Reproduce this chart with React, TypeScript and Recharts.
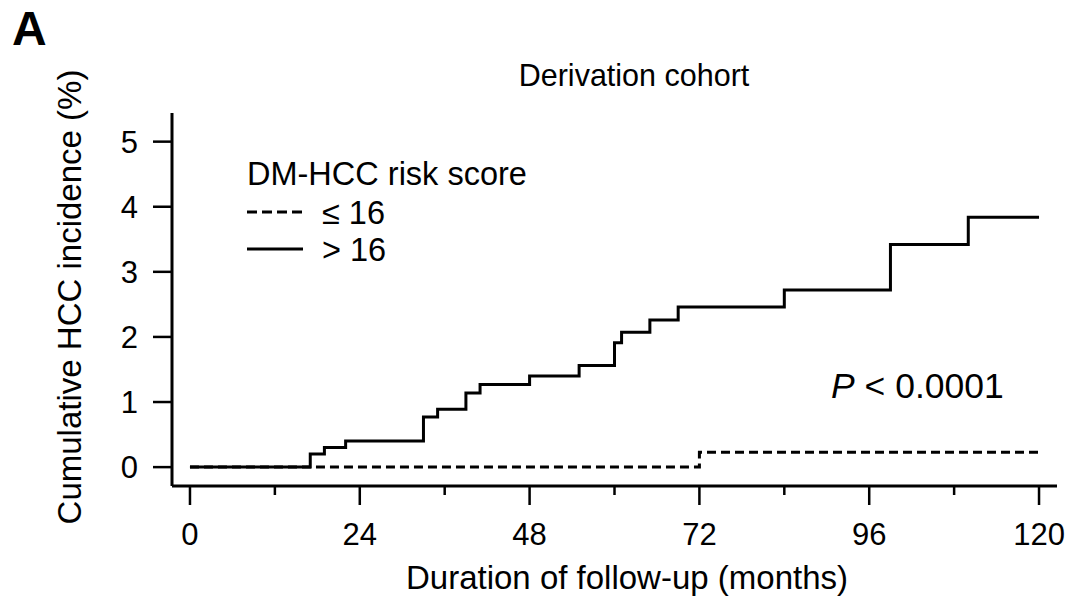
import React from "react";
import { LineChart, Line, XAxis, YAxis } from "recharts";

// Cumulative incidence (%) – score > 16 (solid)
const highMonths = [0, 17, 19, 22, 33, 35, 39, 41, 48, 55, 60, 61, 65, 69, 84, 99, 110, 120];
const highValues = [0, 0.2, 0.3, 0.4, 0.77, 0.89, 1.14, 1.27, 1.4, 1.56, 1.91, 2.07, 2.26, 2.46, 2.72, 3.42, 3.84, 3.84];

// Cumulative incidence (%) – score ≤ 16 (dashed)
const lowMonths = [0, 72, 120];
const lowValues = [0, 0.23, 0.23];

const xTicks = [0, 12, 24, 36, 48, 60, 72, 84, 96, 108, 120];
const xLabelled = [0, 24, 48, 72, 96, 120];
const yTicks = [0, 1, 2, 3, 4, 5];

const highData = highMonths.map((t, i) => ({ t, v: highValues[i] }));
const lowData = lowMonths.map((t, i) => ({ t, v: lowValues[i] }));

const FONT = "'Liberation Sans', Arial, Helvetica, sans-serif";

const XTick = (props: any) => {
  const { x, y, payload } = props;
  const major = xLabelled.includes(payload.value);
  return (
    <g>
      <line x1={x} y1={y} x2={x} y2={y + (major ? 19 : 9)} stroke="#000" strokeWidth={2.5} />
      {major && (
        <text x={x} y={y + 59} textAnchor="middle" fontSize={31} fontFamily={FONT} fill="#000">
          {payload.value}
        </text>
      )}
    </g>
  );
};

const YTick = (props: any) => {
  const { x, y, payload } = props;
  return (
    <g>
      <line x1={x - 19} y1={y} x2={x} y2={y} stroke="#000" strokeWidth={2.5} />
      <text x={x - 34} y={y + 11} textAnchor="end" fontSize={31} fontFamily={FONT} fill="#000">
        {payload.value}
      </text>
    </g>
  );
};

export default function App() {
  return (
    <div style={{ position: "absolute", left: 0, top: 0, width: 1084, height: 598, background: "#fff" }}>
      <LineChart
        width={1084}
        height={598}
        margin={{ top: 113, right: 27, bottom: 0, left: 0 }}
      >
        <XAxis
          type="number"
          dataKey="t"
          domain={[-2.54, 122.54]}
          allowDataOverflow
          ticks={xTicks}
          interval={0}
          height={112}
          tickLine={false}
          tickSize={0}
          tickMargin={0}
          axisLine={{ stroke: "#000", strokeWidth: 3 }}
          tick={<XTick />}
        />
        <YAxis
          type="number"
          dataKey="v"
          domain={[-0.29, 5.44]}
          allowDataOverflow
          ticks={yTicks}
          interval={0}
          width={172}
          tickLine={false}
          tickSize={0}
          tickMargin={0}
          axisLine={{ stroke: "#000", strokeWidth: 3 }}
          tick={<YTick />}
        />
        <Line
          data={lowData}
          dataKey="v"
          type="stepAfter"
          stroke="#000"
          strokeWidth={3}
          strokeDasharray="9 5"
          dot={false}
          activeDot={false}
          isAnimationActive={false}
        />
        <Line
          data={highData}
          dataKey="v"
          type="stepAfter"
          stroke="#000"
          strokeWidth={3}
          dot={false}
          activeDot={false}
          isAnimationActive={false}
        />
      </LineChart>
      <svg
        width={1084}
        height={598}
        style={{ position: "absolute", left: 0, top: 0, pointerEvents: "none" }}
        fontFamily={FONT}
      >
        <text x={12} y={45} fontSize={48} fontWeight="bold" fill="#000">A</text>
        <text x={634} y={86} textAnchor="middle" fontSize={30.5} fill="#000">Derivation cohort</text>
        <text x={247} y={185} fontSize={32.5} fill="#000">DM-HCC risk score</text>
        <line x1={247} y1={212} x2={303} y2={212} stroke="#000" strokeWidth={3} strokeDasharray="10 5" />
        <text x={322} y={224} fontSize={32.5} fill="#000">≤ 16</text>
        <line x1={247} y1={249} x2={303} y2={249} stroke="#000" strokeWidth={3} />
        <text x={322} y={261} fontSize={32.5} fill="#000">&gt; 16</text>
        <text x={831} y={398} fontSize={35.5} fill="#000">
          <tspan fontStyle="italic">P</tspan> &lt; 0.0001
        </text>
        <text x={627} y={589} textAnchor="middle" fontSize={33} fill="#000">
          Duration of follow-up (months)
        </text>
        <text
          x={81}
          y={297}
          textAnchor="middle"
          fontSize={33}
          fill="#000"
          transform="rotate(-90, 81, 297)"
        >
          Cumulative HCC incidence (%)
        </text>
      </svg>
    </div>
  );
}
